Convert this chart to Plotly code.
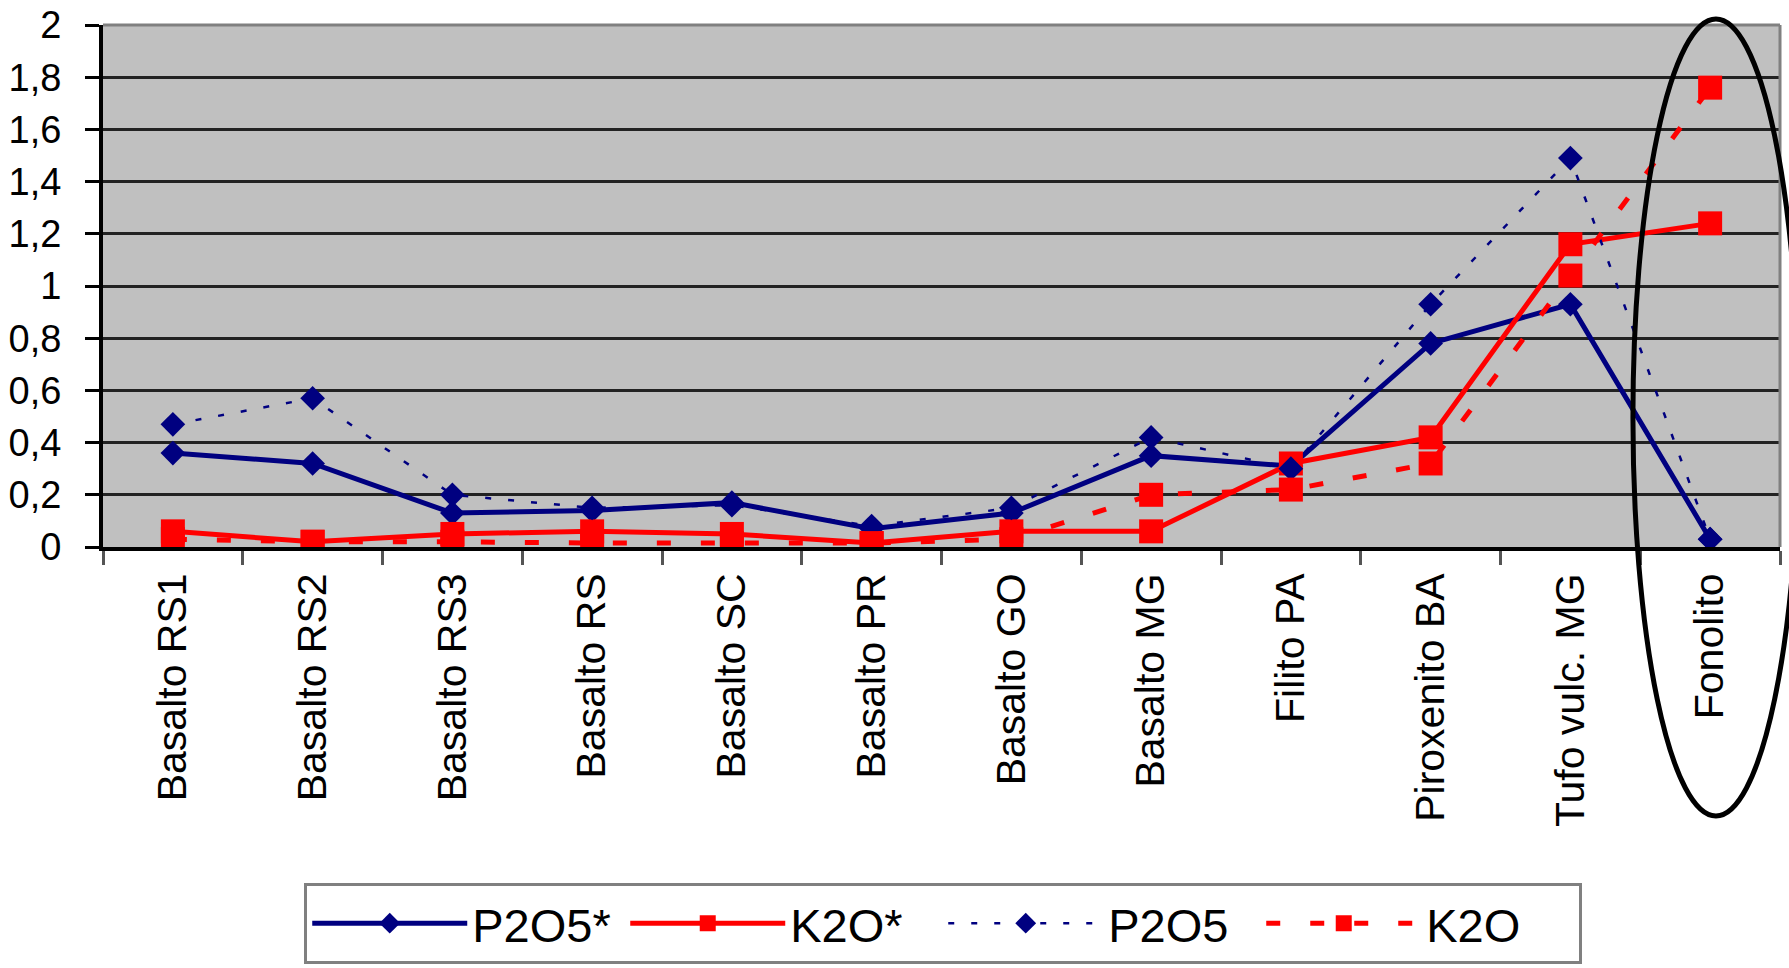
import plotly.graph_objects as go

categories = ["Basalto RS1", "Basalto RS2", "Basalto RS3", "Basalto RS", "Basalto SC",
              "Basalto PR", "Basalto GO", "Basalto MG", "Filito PA", "Piroxenito BA",
              "Tufo vulc. MG", "Fonolito"]
p2o5_star = [0.36, 0.32, 0.13, 0.14, 0.17, 0.07, 0.13, 0.35, 0.31, 0.78, 0.93, 0.03]
k2o_star = [0.06, 0.02, 0.05, 0.06, 0.05, 0.015, 0.06, 0.06, 0.32, 0.42, 1.16, 1.24]
p2o5 = [0.47, 0.57, 0.20, 0.15, 0.16, 0.08, 0.15, 0.42, 0.30, 0.93, 1.49, 0.03]
k2o = [0.03, 0.02, 0.02, 0.015, 0.015, 0.015, 0.03, 0.20, 0.22, 0.32, 1.04, 1.76]

NAVY = "#000080"
RED = "#FF0000"
FONT = "Liberation Sans, Arial, sans-serif"

fig = go.Figure()
fig.add_trace(go.Scatter(x=categories, y=p2o5_star, name="P2O5*", mode="lines+markers",
                         line=dict(color=NAVY, width=5),
                         marker=dict(symbol="diamond", size=19, color=NAVY)))
fig.add_trace(go.Scatter(x=categories, y=k2o_star, name="K2O*", mode="lines+markers",
                         line=dict(color=RED, width=5),
                         marker=dict(symbol="square", size=24, color=RED)))
fig.add_trace(go.Scatter(x=categories, y=p2o5, name="P2O5", mode="lines+markers",
                         line=dict(color=NAVY, width=2.5, dash="6px,17px"),
                         marker=dict(symbol="diamond", size=19, color=NAVY)))
fig.add_trace(go.Scatter(x=categories, y=k2o, name="K2O", mode="lines+markers",
                         line=dict(color=RED, width=5, dash="14px,30px"),
                         marker=dict(symbol="square", size=24, color=RED)))

fig.update_layout(
    width=1789, height=968,
    margin=dict(l=103, r=9, t=25, b=421, autoexpand=False),
    paper_bgcolor="white",
    plot_bgcolor="#C0C0C0",
    separators=",.",
    font=dict(family=FONT, color="black", size=38),
    showlegend=True,
    legend=dict(orientation="h", x=0.12, xanchor="left", y=-0.644, yanchor="top",
                bgcolor="white", bordercolor="#808080", borderwidth=3,
                font=dict(family=FONT, size=47, color="black"),
                itemwidth=155, entrywidth=148, entrywidthmode="pixels",
                tracegroupgap=0),
    xaxis=dict(type="category", range=[-0.5, 11.5], tickson="boundaries",
               ticks="outside", ticklen=14, tickwidth=3, tickcolor="#555555",
               showgrid=False, showline=True, linecolor="black", linewidth=4,
               tickangle=-90, tickfont=dict(family=FONT, size=41, color="black"),
               ticklabelstandoff=6),
    yaxis=dict(range=[0, 2], dtick=0.2, tick0=0, showgrid=True, gridcolor="#222222",
               gridwidth=2.5, zeroline=False, showline=True, linecolor="black", linewidth=4,
               ticks="outside", ticklen=14, tickwidth=3, tickcolor="black",
               tickfont=dict(family=FONT, size=38, color="black"),
               ticklabelstandoff=16),
    shapes=[
        dict(type="line", xref="paper", yref="paper", x0=0, x1=1, y0=1, y1=1,
             line=dict(color="#808080", width=3)),
        dict(type="line", xref="paper", yref="paper", x0=1, x1=1, y0=0, y1=1,
             line=dict(color="#808080", width=3)),
        dict(type="circle", xref="paper", yref="paper", x0=0.9123, x1=1.0113,
             y0=-0.5153, y1=1.0115, line=dict(color="black", width=5),
             fillcolor="rgba(0,0,0,0)", layer="above"),
    ],
)

fig.write_html("out.html", config={"displayModeBar": False},
               post_script="document.body.style.margin='0';")
